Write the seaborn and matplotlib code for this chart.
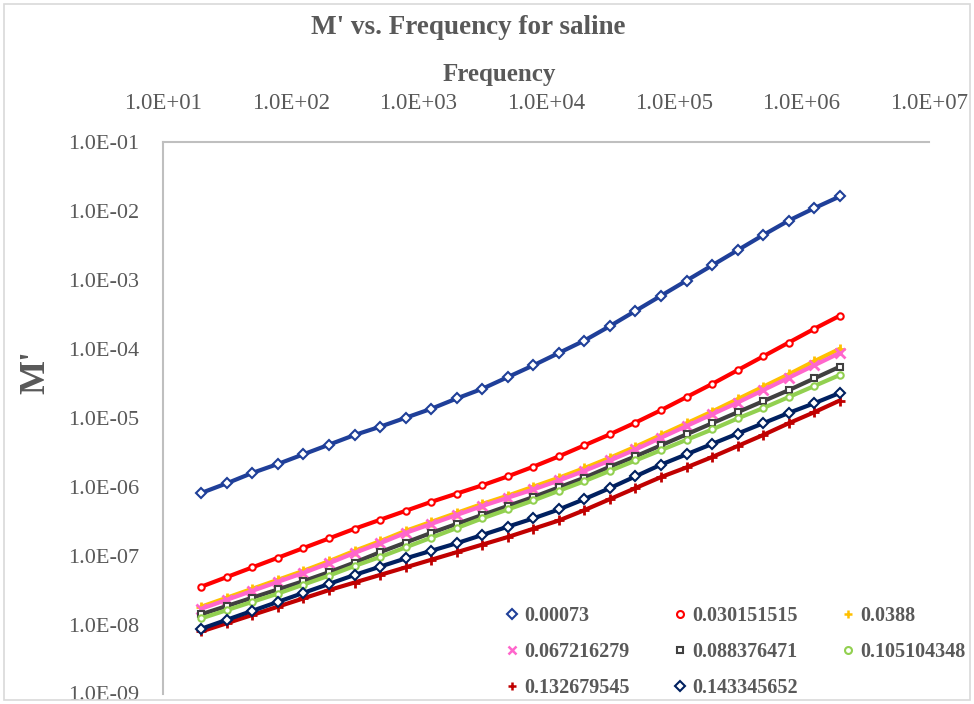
import numpy as np
import pandas as pd
import matplotlib
matplotlib.use("Agg")
import matplotlib.pyplot as plt
import seaborn as sns
from matplotlib.lines import Line2D
from matplotlib.patches import Rectangle
from matplotlib.ticker import FixedLocator, FuncFormatter, NullLocator

# ---------------- data (log10 of M') ----------------
frequency = [20, 31.7, 50.2, 79.6, 126, 200, 317, 502, 796, 1262, 2000, 3170,
             5024, 7962, 12619, 20000, 31698, 50238, 79621, 126191, 200000,
             316979, 502377, 796214, 1261914, 2000000]

log_m_00073 = [-6.09, -5.95, -5.80, -5.67, -5.53, -5.39, -5.25, -5.13, -5.00, -4.87,
               -4.72, -4.58, -4.41, -4.24, -4.06, -3.88, -3.67, -3.45, -3.23, -3.01,
               -2.79, -2.57, -2.35, -2.14, -1.96, -1.79]
log_m_030151515 = [-7.45, -7.31, -7.17, -7.03, -6.89, -6.75, -6.61, -6.48, -6.35, -6.22,
                   -6.10, -5.98, -5.85, -5.71, -5.56, -5.40, -5.24, -5.07, -4.89, -4.70,
                   -4.51, -4.31, -4.11, -3.91, -3.71, -3.52]
log_m_0388 = [-7.74, -7.61, -7.48, -7.35, -7.22, -7.08, -6.93, -6.79, -6.64, -6.51,
              -6.38, -6.25, -6.13, -6.00, -5.87, -5.73, -5.58, -5.42, -5.25, -5.08,
              -4.91, -4.73, -4.55, -4.37, -4.18, -4.00]
log_m_067216279 = [-7.77, -7.64, -7.51, -7.38, -7.25, -7.11, -6.96, -6.82, -6.67, -6.54,
                   -6.41, -6.28, -6.16, -6.04, -5.91, -5.77, -5.62, -5.46, -5.29, -5.12,
                   -4.95, -4.78, -4.60, -4.42, -4.24, -4.06]
log_m_088376471 = [-7.85, -7.73, -7.61, -7.49, -7.37, -7.24, -7.10, -6.95, -6.81, -6.67,
                   -6.54, -6.41, -6.28, -6.15, -6.01, -5.87, -5.71, -5.56, -5.40, -5.24,
                   -5.08, -4.92, -4.76, -4.60, -4.43, -4.26]
log_m_105104348 = [-7.91, -7.79, -7.67, -7.55, -7.42, -7.29, -7.15, -7.02, -6.88, -6.74,
                   -6.60, -6.46, -6.33, -6.20, -6.06, -5.92, -5.77, -5.62, -5.47, -5.32,
                   -5.17, -5.01, -4.86, -4.70, -4.54, -4.38]
log_m_132679545 = [-8.10, -7.98, -7.86, -7.74, -7.62, -7.50, -7.39, -7.28, -7.17, -7.06,
                   -6.95, -6.84, -6.73, -6.61, -6.49, -6.34, -6.18, -6.02, -5.86, -5.72,
                   -5.57, -5.41, -5.25, -5.08, -4.92, -4.75]
log_m_143345652 = [-8.06, -7.93, -7.80, -7.67, -7.54, -7.41, -7.28, -7.16, -7.04, -6.93,
                   -6.82, -6.70, -6.58, -6.46, -6.33, -6.18, -6.02, -5.85, -5.68, -5.53,
                   -5.38, -5.23, -5.08, -4.93, -4.79, -4.64]

series_labels = ["0.00073", "0.030151515", "0.0388", "0.067216279",
                 "0.088376471", "0.105104348", "0.132679545", "0.143345652"]
series_logs = [log_m_00073, log_m_030151515, log_m_0388, log_m_067216279,
               log_m_088376471, log_m_105104348, log_m_132679545, log_m_143345652]

x_ticks = [1e1, 1e2, 1e3, 1e4, 1e5, 1e6, 1e7]
y_ticks = [1e-9, 1e-8, 1e-7, 1e-6, 1e-5, 1e-4, 1e-3, 1e-2, 1e-1]

# ---------------- styles ----------------
colors = ["#1F3F99", "#FF0000", "#FFC000", "#FF66CC", "#404040", "#92D050", "#C00000", "#002060"]
markers = ["D", "o", "+", "x", "s", "o", "+", "D"]
hollow = [True, True, False, False, True, True, False, True]

sns.set_style("white")
plt.rcParams["font.family"] = ["Liberation Serif", "DejaVu Serif"]
text_color = "#595959"

W, H = 974, 704
fig = plt.figure(figsize=(W / 100, H / 100), dpi=100)
ax_left, ax_right, ax_top, ax_bottom = 163, 929, 142, 693.5
ax = fig.add_axes([ax_left / W, 1 - ax_bottom / H, (ax_right - ax_left) / W, (ax_bottom - ax_top) / H])

rows = []
for lab, logs in zip(series_labels, series_logs):
    for f, lv in zip(frequency, logs):
        rows.append({"Frequency": f, "M": 10 ** lv, "series": lab})
df = pd.DataFrame(rows)

for lab, c, m, h in zip(series_labels, colors, markers, hollow):
    sub = df[df["series"] == lab]
    kw = dict(mfc="white", mec=c, mew=1.5, ms=4.6) if h else dict(mec=c, mew=2.0, ms=6.5)
    sns.lineplot(data=sub, x="Frequency", y="M", ax=ax, color=c, lw=3.0,
                 marker=m, legend=False, **kw)

ax.set_xscale("log")
ax.set_yscale("log")
ax.set_xlim(1e1, 1e7)
ax.set_ylim(1e-9, 1e-1)
ax.xaxis.set_major_locator(FixedLocator(x_ticks))
ax.yaxis.set_major_locator(FixedLocator(y_ticks))
ax.xaxis.set_minor_locator(NullLocator())
ax.yaxis.set_minor_locator(NullLocator())
fmt = FuncFormatter(lambda v, p: f"{v:.1E}")
ax.xaxis.set_major_formatter(fmt)
ax.yaxis.set_major_formatter(fmt)
ax.xaxis.tick_top()
ax.tick_params(axis="x", length=0, pad=20, labelsize=16.5, labelcolor=text_color)
ax.tick_params(axis="y", length=0, pad=17, labelsize=16, labelcolor=text_color)
ax.set_xlabel("")
ax.set_ylabel("")
for s in ["right", "bottom"]:
    ax.spines[s].set_visible(False)
for s in ["top", "left"]:
    ax.spines[s].set_color("#BFBFBF")
    ax.spines[s].set_linewidth(1.5)
ax.grid(False)

fig.text(468 / W, 1 - 28 / H, "M' vs. Frequency for saline", ha="center", va="center",
         fontsize=19.5, fontweight="bold", color=text_color)
fig.text(499 / W, 1 - 75 / H, "Frequency", ha="center", va="center",
         fontsize=18, fontweight="bold", color=text_color)
fig.text(36 / W, 1 - 372 / H, "M'", ha="center", va="center", rotation=90,
         fontsize=26, fontweight="bold", color=text_color)

handles = []
for lab, c, m, h in zip(series_labels, colors, markers, hollow):
    if h:
        handles.append(Line2D([], [], ls="none", marker=m, mfc="white", mec=c, mew=1.5, ms=5, label=lab))
    else:
        handles.append(Line2D([], [], ls="none", marker=m, mec=c, mew=1.8, ms=6, label=lab))
order = [0, 3, 6, 1, 4, 7, 2, 5]
leg = ax.legend([handles[i] for i in order], [series_labels[i] for i in order],
                ncol=3, frameon=False, loc="upper left",
                bbox_to_anchor=(506 / W, 1 - 606 / H), bbox_transform=fig.transFigure,
                borderpad=0, borderaxespad=0, handlelength=0.6, handletextpad=0.3,
                columnspacing=2.2, labelspacing=0.8,
                prop={"size": 14.5, "weight": "bold", "family": ["Liberation Serif"]})
for t in leg.get_texts():
    t.set_color(text_color)

fig.patches.append(Rectangle((4 / W, 4 / H), 1 - 8 / W, 1 - 8 / H, transform=fig.transFigure,
                             fill=False, edgecolor="#D9D9D9", lw=1.2))

fig.savefig("out.png", dpi=100)
